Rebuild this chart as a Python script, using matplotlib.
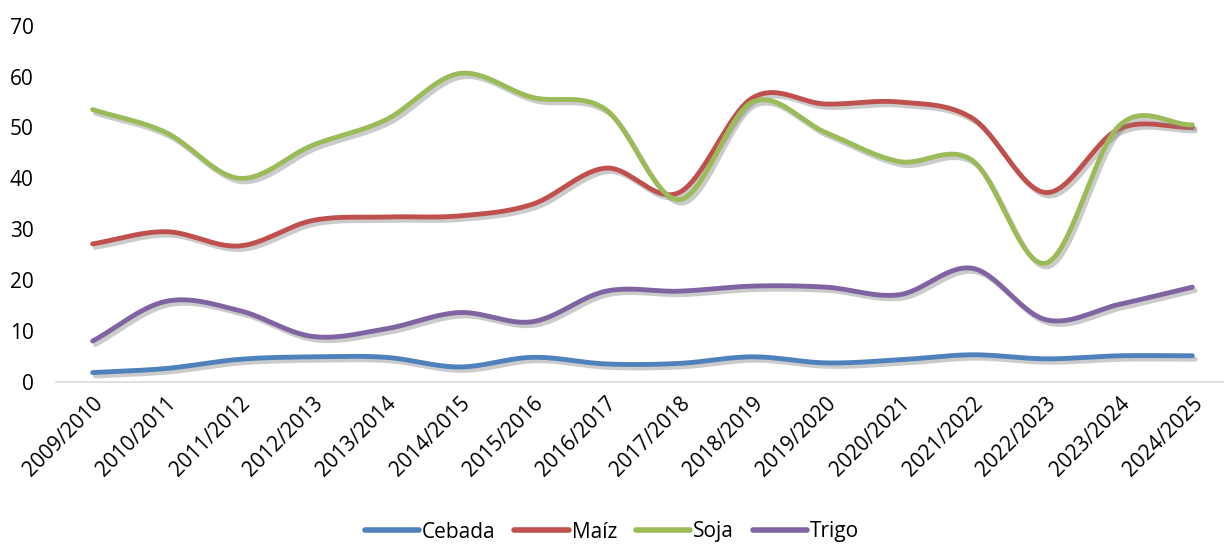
import numpy as np
import matplotlib
matplotlib.use('Agg')
import matplotlib.pyplot as plt
import matplotlib.patheffects as pe

# campaign labels and series
campaigns = ['2009/2010', '2010/2011', '2011/2012', '2012/2013', '2013/2014',
             '2014/2015', '2015/2016', '2016/2017', '2017/2018', '2018/2019',
             '2019/2020', '2020/2021', '2021/2022', '2022/2023', '2023/2024',
             '2024/2025']

cebada = [1.8, 2.6, 4.4, 4.9, 4.8, 2.9, 4.8, 3.5, 3.6, 4.9, 3.7, 4.3, 5.3, 4.5, 5.1, 5.1]
maiz = [27.1, 29.5, 26.7, 31.7, 32.4, 32.6, 34.9, 42.0, 37.2, 55.8, 54.6, 55.0, 51.8, 37.2, 49.7, 50.0]
soja = [53.5, 49.0, 40.0, 46.5, 51.5, 60.6, 55.9, 53.5, 35.8, 55.0, 49.0, 43.3, 43.5, 23.3, 50.3, 50.5]
trigo = [8.0, 15.8, 14.0, 8.9, 10.4, 13.6, 11.8, 17.8, 17.8, 18.8, 18.6, 17.1, 22.3, 12.2, 15.2, 18.6]

series = [('Cebada', cebada, '#4F81BD'),
          ('Maíz', maiz, '#C0504D'),
          ('Soja', soja, '#9BBB59'),
          ('Trigo', trigo, '#8064A2')]

plt.rcParams['font.family'] = ['Open Sans', 'DejaVu Sans']


def smooth(y, steps=30):
    # cubic Hermite (Catmull-Rom style) curve through every point, like Excel's smoothed line
    y = np.asarray(y, dtype=float)
    n = len(y)
    m = np.zeros(n)
    m[1:-1] = (y[2:] - y[:-2]) / 2
    m[0] = y[1] - y[0]
    m[-1] = y[-1] - y[-2]
    xs, ys = [], []
    t = np.linspace(0, 1, steps, endpoint=False)
    h00 = 2 * t**3 - 3 * t**2 + 1
    h10 = t**3 - 2 * t**2 + t
    h01 = -2 * t**3 + 3 * t**2
    h11 = t**3 - t**2
    for i in range(n - 1):
        xs.append(i + t)
        ys.append(h00 * y[i] + h10 * m[i] + h01 * y[i + 1] + h11 * m[i + 1])
    xs.append([n - 1])
    ys.append([y[-1]])
    return np.concatenate(xs), np.concatenate(ys)


fig = plt.figure(figsize=(12.24, 5.45), dpi=100)
ax = fig.add_axes([56 / 1224, 0.2996, 1173 / 1224, 0.6532])

# soft grey drop shadow under each line
shadow = [pe.SimpleLineShadow(offset=(2, -2.5), shadow_color='#7f7f7f', alpha=0.4),
          pe.Normal()]

for name, vals, color in series:
    sx, sy = smooth(vals)
    ax.plot(sx, sy, color=color, linewidth=3.5, solid_capstyle='round',
            label=name, path_effects=shadow)

ax.set_xlim(-0.5, len(campaigns) - 0.5)
ax.set_ylim(0, 70)
ax.set_yticks(range(0, 71, 10))
ax.set_xticks(range(len(campaigns)))
ax.set_xticklabels(campaigns, rotation=45, ha='right', va='top', rotation_mode='anchor')

for side in ['top', 'right', 'left']:
    ax.spines[side].set_visible(False)
ax.spines['bottom'].set_color('#D9D9D9')
ax.spines['bottom'].set_linewidth(1.2)
ax.tick_params(axis='both', length=0, labelsize=15, colors='black')
ax.tick_params(axis='y', pad=16)
ax.tick_params(axis='x', pad=8)

leg = fig.legend(loc='center', bbox_to_anchor=(0.5, (545 - 532) / 545),
                 ncol=4, frameon=False, fontsize=15, handlelength=2.6,
                 handletextpad=0.15, columnspacing=0.9)
for line in leg.get_lines():
    line.set_path_effects([])
    line.set_linewidth(4)

fig.savefig('out.png', dpi=100)
